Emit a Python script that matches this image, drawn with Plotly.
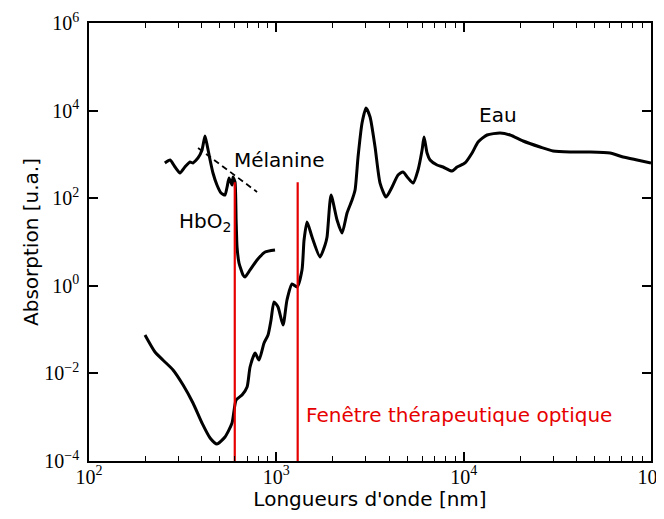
import plotly.graph_objects as go

# ---- data ----
water_nm = [199, 225, 248, 281, 318, 359, 401, 443, 482, 532,
            580, 610, 656, 698, 724, 770, 808, 860, 903, 937,
            972, 1021, 1086, 1140, 1213, 1290, 1371, 1406, 1459, 1551,
            1711, 1820, 1865, 1959, 2109, 2243, 2385, 2536, 2632, 2730,
            2868, 3013, 3165, 3365, 3578, 3852, 4148, 4464, 4747, 5048,
            5368, 5708, 5998, 6145, 6377, 6616, 7211, 7762, 8670, 9222,
            10170, 11090, 11940, 13335, 15640, 17690, 20760, 25580, 30020, 36980,
            47290, 60480, 70960, 84300, 100000]
water_abs = [0.0753, 0.0308, 0.0202, 0.012, 0.00543, 0.00211, 0.000738, 0.000335, 0.000244, 0.000353,
             0.000738, 0.00247, 0.00321, 0.00489, 0.014, 0.0292, 0.0202, 0.0494, 0.0753, 0.166,
             0.427, 0.328, 0.127, 0.474, 1.10, 0.94, 2.30, 11.1, 28.6, 13.0,
             4.55, 8.55, 13.0, 118, 31.8, 16.0, 45.9, 91, 154, 873,
             5210, 11450, 7140, 1476, 222, 106, 180, 339, 396, 289,
             222, 441, 1259, 2495, 1076, 745, 573, 515, 418, 515,
             637, 1076, 1919, 2773, 3080, 2773, 2023, 1476, 1196, 1135,
             1135, 1076, 873, 745, 637]

hbo2_nm = [254, 271, 288, 306, 325, 346, 359, 382, 401, 416,
           427, 443, 459, 482, 507, 532, 546, 559, 580, 587,
           602, 610, 617, 632, 664, 681, 724, 789, 871, 984]
hbo2_abs = [637, 745, 515, 376, 515, 670, 637, 828, 1259, 2630,
            1640, 745, 376, 200, 131, 118, 180, 289, 200, 305,
            234, 31.8, 7.69, 3.32, 1.77, 1.59, 2.30, 3.88, 5.91, 6.57]

melanine_nm = [382, 789]
melanine_abs = [1400, 139]

window_nm = [600, 1300]          # optical therapeutic window limits
window_abs = [1e-4, 230]         # vertical extent of the red markers

x_ticks = [1e2, 1e3, 1e4, 1e5]
x_ticktext = ["10<sup>2</sup>", "10<sup>3</sup>", "10<sup>4</sup>", "10<sup>5</sup>"]
x_minor = [200, 300, 400, 500, 600, 700, 800, 900,
           2000, 3000, 4000, 5000, 6000, 7000, 8000, 9000,
           20000, 30000, 40000, 50000, 60000, 70000, 80000, 90000]
y_ticks = [1e-4, 1e-2, 1e0, 1e2, 1e4, 1e6]
y_ticktext = ["10<sup>\u22124</sup>", "10<sup>\u22122</sup>", "10<sup>0</sup>",
              "10<sup>2</sup>", "10<sup>4</sup>", "10<sup>6</sup>"]

RED = "#e60000"
SANS = "DejaVu Sans"
SERIF = "Liberation Serif"

fig = go.Figure()
fig.add_trace(go.Scatter(x=water_nm, y=water_abs, mode="lines",
                         line=dict(color="black", width=3, shape="spline", smoothing=0.6),
                         name="Eau", showlegend=False))
fig.add_trace(go.Scatter(x=hbo2_nm, y=hbo2_abs, mode="lines",
                         line=dict(color="black", width=3, shape="spline", smoothing=0.5),
                         name="HbO2", showlegend=False))
fig.add_trace(go.Scatter(x=melanine_nm, y=melanine_abs, mode="lines",
                         line=dict(color="black", width=1.8, dash="6px,4px"),
                         name="Mélanine", showlegend=False))
for wl in window_nm:
    fig.add_trace(go.Scatter(x=[wl, wl], y=window_abs, mode="lines",
                             line=dict(color=RED, width=2.2), showlegend=False))

fig.add_annotation(text="Mélanine", xref="paper", yref="paper", x=0.2544, y=0.687,
                   xanchor="left", yanchor="middle", showarrow=False,
                   font=dict(family=SANS, size=20, color="black"))
fig.add_annotation(text="HbO<sub>2</sub>", xref="paper", yref="paper", x=0.1566, y=0.545,
                   xanchor="left", yanchor="middle", showarrow=False,
                   font=dict(family=SANS, size=20, color="black"))
fig.add_annotation(text="Eau", xref="paper", yref="paper", x=0.690, y=0.790,
                   xanchor="left", yanchor="middle", showarrow=False,
                   font=dict(family=SANS, size=20, color="black"))
fig.add_annotation(text="Fenêtre thérapeutique optique", xref="paper", yref="paper",
                   x=0.3826, y=0.105, xanchor="left", yanchor="middle", showarrow=False,
                   font=dict(family=SANS, size=20, color=RED))

fig.update_xaxes(type="log", range=[2, 5], tickmode="array", tickvals=x_ticks, ticktext=x_ticktext,
                 ticks="inside", ticklen=9, tickwidth=1.5, tickcolor="black",
                 showline=True, linecolor="black", linewidth=1.5, mirror="ticks",
                 showgrid=False, zeroline=False, ticklabeloverflow="allow",
                 ticklabelstandoff=-3,
                 minor=dict(tickmode="array", tickvals=x_minor, ticks="inside", ticklen=5,
                            tickwidth=1.2, tickcolor="black", showgrid=False),
                 tickfont=dict(family=SERIF, size=20, color="black"),
                 title=dict(text="Longueurs d'onde [nm]", font=dict(family=SANS, size=20, color="black"),
                            standoff=1),
                 automargin=False)
fig.update_yaxes(type="log", range=[-4, 6], tickmode="array", tickvals=y_ticks, ticktext=y_ticktext,
                 ticks="inside", ticklen=9, tickwidth=1.5, tickcolor="black",
                 showline=True, linecolor="black", linewidth=1.5, mirror="ticks",
                 showgrid=False, zeroline=False, ticklabelstandoff=4,
                 tickfont=dict(family=SERIF, size=20, color="black"),
                 title=dict(text="Absorption [u.a.]", font=dict(family=SANS, size=20, color="black"),
                            standoff=0),
                 automargin=False)

# page has an 8px body margin, so the figure is sized/placed to compensate (no scrollbars)
fig.update_layout(width=648, height=503, margin=dict(l=81, r=5, t=15, b=50),
                  plot_bgcolor="white", paper_bgcolor="white", showlegend=False)

fig.write_html("out.html")
